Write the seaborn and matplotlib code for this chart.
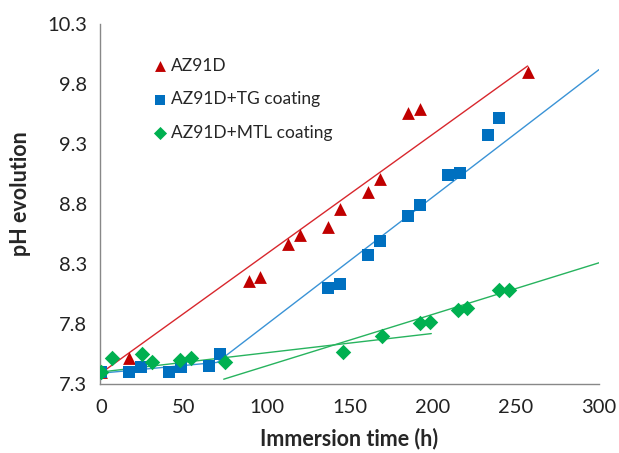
import matplotlib
matplotlib.use("Agg")
import matplotlib.pyplot as plt
import seaborn as sns

# ---- data ----
az_time = [0, 17, 89, 96, 113, 120, 137, 144, 161, 168, 185, 192, 257]
az_ph = [7.40, 7.52, 8.16, 8.19, 8.47, 8.54, 8.61, 8.76, 8.90, 9.01, 9.56, 9.59, 9.90]

tg_time = [0, 17, 24, 41, 48, 65, 72, 137, 144, 161, 168, 185, 192, 209, 216, 233, 240]
tg_ph = [7.40, 7.40, 7.44, 7.40, 7.44, 7.45, 7.55, 8.10, 8.13, 8.375, 8.49, 8.70, 8.79,
         9.04, 9.06, 9.375, 9.52]

mtl_time = [0, 6.6, 24.6, 30.6, 47.5, 54, 74.5, 146, 169.5, 192, 198, 215, 220.5, 240, 246]
mtl_ph = [7.40, 7.52, 7.55, 7.48, 7.50, 7.52, 7.48, 7.57, 7.70, 7.81, 7.82, 7.92, 7.93,
          8.08, 8.08]

# trend lines (start/end values)
az_trend_time = [0, 257]
az_trend_ph = [7.39, 9.95]
tg_trend1_time = [0, 70]
tg_trend1_ph = [7.39, 7.48]
tg_trend2_time = [70, 300]
tg_trend2_ph = [7.48, 9.92]
mtl_trend1_time = [0, 199]
mtl_trend1_ph = [7.40, 7.72]
mtl_trend2_time = [74, 300]
mtl_trend2_ph = [7.34, 8.31]

labels = ["AZ91D", "AZ91D+TG coating", "AZ91D+MTL coating"]
x_ticks = [0, 50, 100, 150, 200, 250, 300]
y_ticks = [7.3, 7.8, 8.3, 8.8, 9.3, 9.8, 10.3]

red, blue, green = "#C00000", "#0070C0", "#00B050"
red_l, blue_l, green_l = "#D8272D", "#3A93D6", "#27B35E"

sns.set_style("white")
plt.rcParams['font.family'] = ['Lato', 'DejaVu Sans']

fig = plt.figure(figsize=(6.19, 4.53), dpi=100)
ax = fig.add_axes([100/619, 1-384/453, 499/619, 360/453])

lw = 1.0
sns.lineplot(x=az_trend_time, y=az_trend_ph, color=red_l, lw=lw, ax=ax, legend=False)
sns.lineplot(x=tg_trend1_time, y=tg_trend1_ph, color=blue_l, lw=lw, ax=ax, legend=False)
sns.lineplot(x=tg_trend2_time, y=tg_trend2_ph, color=blue_l, lw=lw, ax=ax, legend=False)
sns.lineplot(x=mtl_trend1_time, y=mtl_trend1_ph, color=green_l, lw=lw, ax=ax, legend=False)
sns.lineplot(x=mtl_trend2_time, y=mtl_trend2_ph, color=green_l, lw=lw, ax=ax, legend=False)

sns.scatterplot(x=az_time, y=az_ph, marker='^', s=85, color=red, linewidth=0,
                label=labels[0], ax=ax, zorder=3)
sns.scatterplot(x=tg_time, y=tg_ph, marker='s', s=65, color=blue, linewidth=0,
                label=labels[1], ax=ax, zorder=3)
sns.scatterplot(x=mtl_time, y=mtl_ph, marker='D', s=62, color=green, linewidth=0,
                label=labels[2], ax=ax, zorder=3)

ax.set_xlim(-0.5, 300)
ax.set_ylim(7.3, 10.3)
ax.set_xticks(x_ticks)
ax.set_yticks(y_ticks)
ax.set_yticklabels([f"{v:.1f}" for v in y_ticks])
ax.tick_params(axis='both', labelsize=14.5, colors='#222222', length=5, width=1,
               color='#888888', direction='out', pad=4)
ax.tick_params(axis='x', pad=6)

for side in ['top', 'right']:
    ax.spines[side].set_visible(False)
for side in ['left', 'bottom']:
    ax.spines[side].set_color('#888888')
    ax.spines[side].set_linewidth(1)

ax.set_xlabel("Immersion time (h)", fontsize=15.5, fontweight='bold', labelpad=8)
ax.set_ylabel("pH evolution", fontsize=15.5, fontweight='bold')
ax.yaxis.set_label_coords(-0.138, 0.53)

ax.legend(loc='upper left', bbox_to_anchor=(0.092, 0.925), frameon=False, fontsize=12.5,
          handlelength=0.8, handletextpad=0.25, labelspacing=1.0, borderaxespad=0,
          markerscale=0.85)

fig.savefig("out.png", dpi=100)
